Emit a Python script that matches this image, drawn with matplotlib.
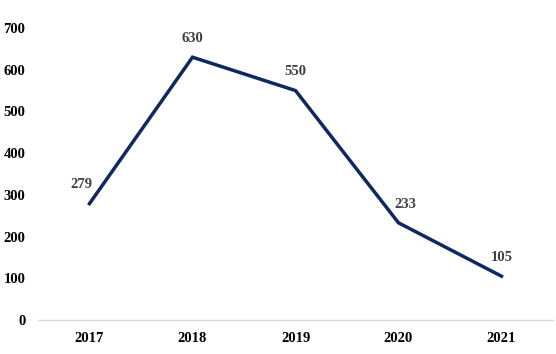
import matplotlib
matplotlib.use("Agg")
import matplotlib.pyplot as plt

years = ["2017", "2018", "2019", "2020", "2021"]
values = [279, 630, 550, 233, 105]
yticks = [0, 100, 200, 300, 400, 500, 600, 700]
label_dx = [-8, 0, 0, 7, 0]  # px horizontal offsets of data labels

plt.rcParams['font.family'] = ['Liberation Serif', 'DejaVu Serif']

fig = plt.figure(figsize=(5.56, 3.54), dpi=100)
ax = fig.add_axes([38/556, 1 - 320/354, (553 - 38)/556, (320 - 28)/354])

x = list(range(len(years)))
ax.plot(x, values, color='#0f2860', linewidth=2.5, solid_joinstyle='miter')

for xi, v, dx in zip(x, values, label_dx):
    ax.annotate(str(v), (xi, v), xytext=(dx * 0.72, 13.5), textcoords='offset points',
                ha='center', va='center', fontsize=10.5, fontweight='bold', color='#404040')

ax.set_xlim(-0.5, len(years) - 0.5)
ax.set_ylim(0, 700)
ax.set_yticks(yticks)
ax.set_xticks(x)
ax.set_xticklabels(years)
ax.tick_params(axis='both', length=0, labelsize=10.5, colors='black')
ax.tick_params(axis='y', pad=9)
ax.tick_params(axis='x', pad=9)
for lab in ax.get_xticklabels() + ax.get_yticklabels():
    lab.set_fontweight('bold')

for s in ['top', 'right', 'left']:
    ax.spines[s].set_visible(False)
ax.spines['bottom'].set_color('#d9d9d9')
ax.spines['bottom'].set_linewidth(1.0)

fig.savefig('out.png', dpi=100)
